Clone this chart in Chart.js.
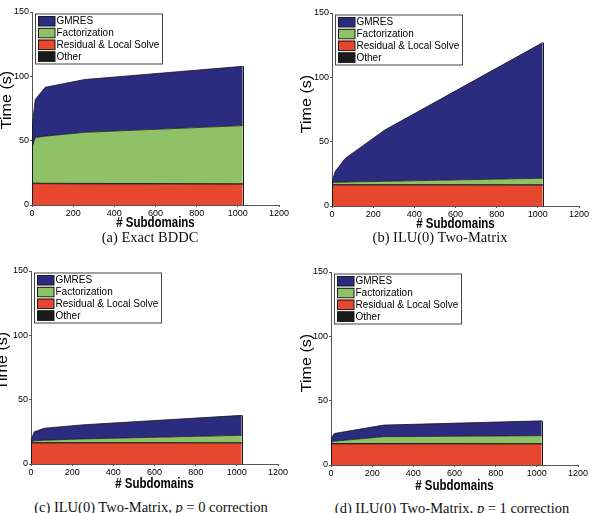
<!DOCTYPE html>
<html>
<head>
<meta charset="utf-8">
<script src="https://cdn.jsdelivr.net/npm/chart.js@4.4.1/dist/chart.umd.min.js"></script>
<style>
  body { margin: 0; background: #fff; }
  #fig { position: relative; width: 598px; height: 513px; overflow: hidden; background: #fff; }
  .panel { position: absolute; width: 300px; height: 236px; }
  .cap {
    position: absolute; font-family: "Liberation Serif", "Times New Roman", serif;
    font-size: 14.5px; line-height: 1; white-space: nowrap; color: #111;
    transform: translateX(-50%);
  }
</style>
</head>
<body>
<div id="fig">
  <div class="panel" style="left:-1px;top:0px"><canvas id="cA" width="300" height="236"></canvas></div>
  <div class="panel" style="left:299px;top:1px"><canvas id="cB" width="300" height="236"></canvas></div>
  <div class="panel" style="left:-2px;top:259px"><canvas id="cC" width="300" height="236"></canvas></div>
  <div class="panel" style="left:298px;top:260px"><canvas id="cD" width="300" height="236"></canvas></div>

  <div class="cap" style="left:150px;top:230px">(a) Exact BDDC</div>
  <div class="cap" style="left:440px;top:230px">(b) ILU(0) Two-Matrix</div>
  <div class="cap" style="left:151px;top:500px">(c) ILU(0) Two-Matrix, <i>p</i> = 0 correction</div>
  <div class="cap" style="left:452px;top:501px">(d) ILU(0) Two-Matrix, <i>p</i> = 1 correction</div>
</div>

<script>
// ---------------------------------------------
//  data (each series = layer thickness, stacked)
// ---------------------------------------------
const SUBDOMAINS = [1, 16, 64, 256, 1024];
const X_TICKS = [0, 200, 400, 600, 800, 1000, 1200];
const Y_TICKS = [0, 50, 100, 150];

// (a) Exact BDDC
const A_RESIDUAL = [16.6, 16.6, 16.5, 16.4, 16.1];
const A_OTHER    = [0.4, 0.4, 0.4, 0.4, 0.4];
const A_FACT     = [28, 35.5, 36.6, 39.7, 45.2];
const A_GMRES    = [17, 29.5, 38, 41, 46.1];

// (b) ILU(0) Two-Matrix
const B_RESIDUAL = [16.3, 16.3, 16.3, 16.3, 16.2];
const B_OTHER    = [0.3, 0.3, 0.3, 0.3, 0.3];
const B_FACT     = [1.6, 1.8, 2.0, 2.6, 5.1];
const B_GMRES    = [1.3, 8.6, 18.4, 39.8, 105.4];

// (c) ILU(0) Two-Matrix, p = 0 correction
const C_RESIDUAL = [16.3, 16.3, 16.3, 16.3, 16.2];
const C_OTHER    = [0.3, 0.3, 0.3, 0.3, 0.3];
const C_FACT     = [0.7, 1.4, 1.9, 2.9, 5.8];
const C_GMRES    = [1.7, 7, 9.3, 11, 15.5];

// (d) ILU(0) Two-Matrix, p = 1 correction
const D_RESIDUAL = [16.4, 16.4, 16.4, 16.4, 16.3];
const D_OTHER    = [0.3, 0.3, 0.3, 0.3, 0.3];
const D_FACT     = [1.1, 1.8, 2.5, 5.3, 6.2];
const D_GMRES    = [3.2, 6, 6.6, 9, 11.5];

// ---------------------------------------------
//  styles
// ---------------------------------------------
const BLUE  = '#2b2c80';
const GREEN = '#8fc267';
const RED   = '#e8472f';
const BLACK = '#1a1a1a';
const AXIS  = '#555';

Chart.defaults.font.family = '"Liberation Sans", Arial, Helvetica, sans-serif';
Chart.defaults.color = '#000';

const ds = (label, vals, color, fill) => ({
  label,
  data: SUBDOMAINS.map((x, i) => ({ x, y: vals[i] })),
  backgroundColor: color,
  borderColor: BLACK,
  borderWidth: 0.8,
  pointRadius: 0,
  tension: 0,
  fill,
});

// vertical patch edges at first / last x (as MATLAB area does)
const edgePlugin = {
  id: 'edges',
  afterDatasetsDraw(chart) {
    const { ctx, scales: { x, y } } = chart;
    const n = SUBDOMAINS.length;
    ctx.save();
    ctx.strokeStyle = BLACK;
    ctx.lineWidth = 1;
    [0, n - 1].forEach(i => {
      const tot = chart.data.datasets.reduce((s, d) => s + d.data[i].y, 0);
      const px = Math.round(x.getPixelForValue(SUBDOMAINS[i])) + 0.5;
      ctx.beginPath();
      ctx.moveTo(px, y.getPixelForValue(0));
      ctx.lineTo(px, y.getPixelForValue(tot));
      ctx.stroke();
    });
    ctx.restore();
  }
};

// boxed legend in the top-left of the plot area
const boxLegend = {
  id: 'boxLegend',
  afterDraw(chart, args, opts) {
    const { ctx, chartArea } = chart;
    const bx = chartArea.left + opts.dx, by = chartArea.top + opts.dy;
    const bw = 127, bh = 50;
    ctx.save();
    ctx.fillStyle = '#fff';
    ctx.fillRect(bx, by, bw, bh);
    ctx.strokeStyle = '#444';
    ctx.lineWidth = 1;
    ctx.strokeRect(bx + 0.5, by + 0.5, bw, bh);
    const items = [...chart.data.datasets].reverse();
    const order = ['GMRES', 'Factorization', 'Residual & Local Solve', 'Other'];
    ctx.font = '10px "Liberation Sans", Arial, sans-serif';
    ctx.textBaseline = 'middle';
    order.forEach((name, i) => {
      const d = items.find(it => it.label === name);
      const ry = by + 2.5 + i * 11.8;
      ctx.fillStyle = d.backgroundColor;
      ctx.fillRect(bx + 3, ry, 17, 10);
      ctx.strokeStyle = BLACK;
      ctx.strokeRect(bx + 3.5, ry + 0.5, 16.5, 9.5);
      ctx.fillStyle = '#000';
      ctx.fillText(name, bx + 21.5, ry + 5.5);
    });
    ctx.restore();
  }
};

// axis titles (slightly stretched like the original figure)
const axisTitles = {
  id: 'axisTitles',
  afterDraw(chart, args, opts) {
    const { ctx, chartArea } = chart;
    ctx.save();
    ctx.fillStyle = '#000';
    ctx.textAlign = 'center';
    ctx.textBaseline = 'middle';
    // x title
    ctx.save();
    ctx.translate((chartArea.left + chartArea.right) / 2, opts.xy);
    ctx.scale(0.82, 1);
    ctx.font = 'bold 14px "Liberation Sans", Arial, sans-serif';
    ctx.fillText('# Subdomains', 0, 0);
    ctx.restore();
    // y title
    ctx.save();
    ctx.translate(opts.yx, opts.yy);
    ctx.rotate(-Math.PI / 2);
    ctx.scale(1.15, 1);
    ctx.font = '14px "Liberation Sans", Arial, sans-serif';
    ctx.fillText('Time (s)', 0, 0);
    ctx.restore();
    ctx.restore();
  }
};

const makeChart = (id, res, oth, fac, gm, titlePos) => new Chart(document.getElementById(id), {
  type: 'line',
  data: {
    datasets: [
      ds('Residual & Local Solve', res, RED, 'origin'),
      ds('Other', oth, BLACK, '-1'),
      ds('Factorization', fac, GREEN, '-1'),
      ds('GMRES', gm, BLUE, '-1'),
    ]
  },
  options: {
    responsive: false,
    animation: false,
    layout: { padding: { left: 0, top: 12, right: 20, bottom: 0 } },
    plugins: {
      legend: { display: false },
      tooltip: { enabled: false },
      boxLegend: { dx: 3, dy: 1.5 },
      axisTitles: titlePos,
    },
    scales: {
      x: {
        type: 'linear', min: 0, max: 1200,
        afterBuildTicks: s => { s.ticks = X_TICKS.map(v => ({ value: v })); },
        ticks: { font: { size: 9 }, color: '#000', padding: 1, maxRotation: 0, autoSkip: false,
                 callback: v => String(v) },
        grid: { drawOnChartArea: false, tickLength: 2, color: AXIS },
        border: { color: AXIS, width: 1 },
        afterFit: s => { s.height = 31; },
      },
      y: {
        stacked: true, min: 0, max: 150,
        afterBuildTicks: s => { s.ticks = Y_TICKS.map(v => ({ value: v })); },
        ticks: { font: { size: 9 }, color: '#000', padding: 1, callback: v => String(v) },
        grid: { drawOnChartArea: false, tickLength: 2, color: AXIS },
        border: { color: AXIS, width: 1 },
        afterFit: s => { s.width = 33; },
      }
    }
  },
  plugins: [edgePlugin, boxLegend, axisTitles]
});

makeChart('cA', A_RESIDUAL, A_OTHER, A_FACT, A_GMRES, { xy: 223, yx: 8.5, yy: 100 });
makeChart('cB', B_RESIDUAL, B_OTHER, B_FACT, B_GMRES, { xy: 223.5, yx: 8, yy: 103 });
makeChart('cC', C_RESIDUAL, C_OTHER, C_FACT, C_GMRES, { xy: 225.5, yx: 5, yy: 102 });
makeChart('cD', D_RESIDUAL, D_OTHER, D_FACT, D_GMRES, { xy: 226, yx: 9, yy: 103 });
</script>
</body>
</html>
